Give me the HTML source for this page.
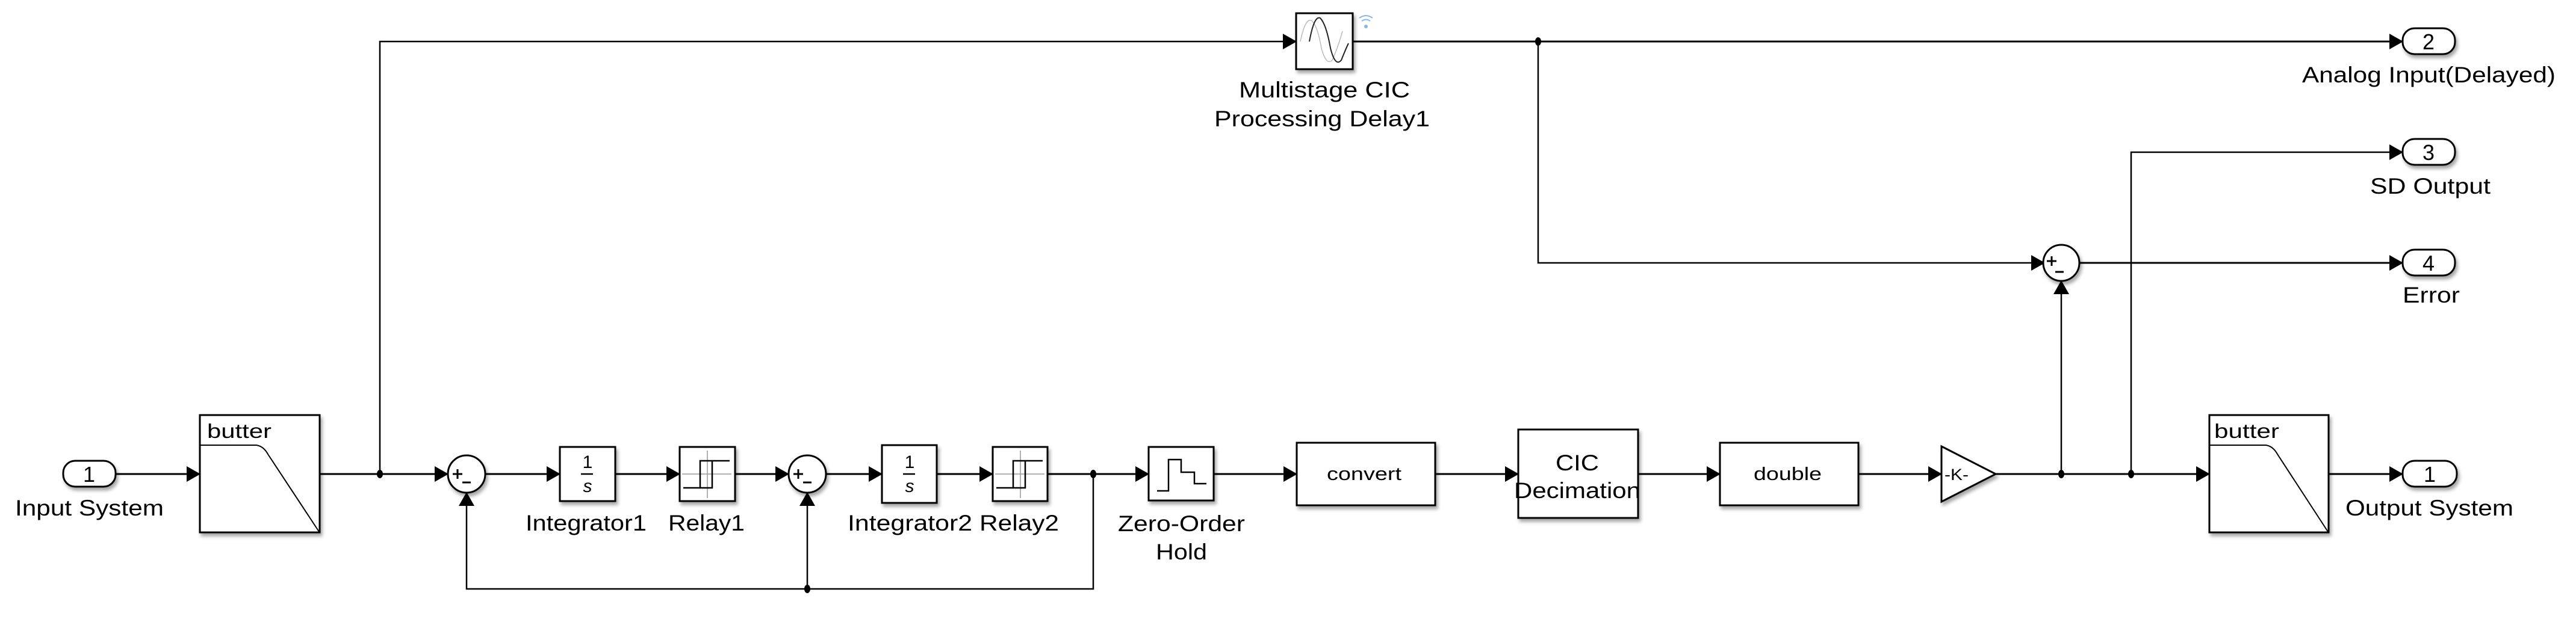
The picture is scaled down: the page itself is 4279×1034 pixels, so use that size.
<!DOCTYPE html>
<html><head><meta charset="utf-8"><style>
html,body{margin:0;padding:0;background:#fff;}
svg{display:block;}
text{font-family:"Liberation Sans",sans-serif;fill:#000;}
</style></head><body>
<svg width="4279" height="1034" viewBox="0 0 4279 1034" xmlns="http://www.w3.org/2000/svg">
<defs>
<marker id="a" markerWidth="24" markerHeight="26" refX="22" refY="13" orient="auto" markerUnits="userSpaceOnUse">
<path d="M0,0 L23,13 L0,26 Z" fill="#000"/></marker>
<filter id="sh" x="-10%" y="-10%" width="130%" height="130%"><feDropShadow dx="3" dy="5" stdDeviation="3" flood-color="#000" flood-opacity="0.35"/></filter>
</defs>
<g fill="none" stroke="#000" stroke-width="3">
<line x1="192" y1="788" x2="332" y2="788" marker-end="url(#a)"/>
<line x1="532" y1="788" x2="744" y2="788" marker-end="url(#a)"/>
<line x1="806" y1="788" x2="930" y2="788" marker-end="url(#a)"/>
<line x1="1022" y1="788" x2="1129" y2="788" marker-end="url(#a)"/>
<line x1="1221" y1="788" x2="1310" y2="788" marker-end="url(#a)"/>
<line x1="1372" y1="788" x2="1465" y2="788" marker-end="url(#a)"/>
<line x1="1556" y1="788" x2="1649" y2="788" marker-end="url(#a)"/>
<line x1="1740" y1="788" x2="1908" y2="788" marker-end="url(#a)"/>
<line x1="2016" y1="788" x2="2154" y2="788" marker-end="url(#a)"/>
<line x1="2384" y1="788" x2="2522" y2="788" marker-end="url(#a)"/>
<line x1="2721" y1="788" x2="2857" y2="788" marker-end="url(#a)"/>
<line x1="3087" y1="788" x2="3225" y2="788" marker-end="url(#a)"/>
<line x1="3315" y1="788" x2="3670" y2="788" marker-end="url(#a)"/>
<line x1="3868" y1="788" x2="3991" y2="788" marker-end="url(#a)"/>
<polyline points="1816,788 1816,979 775,979 775,819" stroke-width="2.5" marker-end="url(#a)"/>
<polyline points="1341,979 1341,819" stroke-width="2.5" marker-end="url(#a)"/>
<polyline points="631,788 631,69 2153,69" stroke-width="2.5" marker-end="url(#a)"/>
<line x1="2247" y1="69" x2="3991" y2="69" marker-end="url(#a)"/>
<polyline points="2555,69 2555,437 3396,437" stroke-width="2.5" marker-end="url(#a)"/>
<line x1="3453" y1="437" x2="3991" y2="437" marker-end="url(#a)"/>
<polyline points="3424,788 3424,467" stroke-width="2.5" marker-end="url(#a)"/>
<polyline points="3540,788 3540,253 3991,253" stroke-width="2.5" marker-end="url(#a)"/>
</g>
<g fill="#000">
<ellipse cx="631" cy="788" rx="5" ry="7"/><ellipse cx="1341" cy="979" rx="5" ry="7"/>
<ellipse cx="1816" cy="788" rx="5" ry="7"/><ellipse cx="2555" cy="69" rx="5" ry="7"/>
<ellipse cx="3424" cy="788" rx="5" ry="7"/><ellipse cx="3540" cy="788" rx="5" ry="7"/>
</g>
<g fill="#fff" stroke="#000" stroke-width="3" filter="url(#sh)">
<rect x="105" y="766" width="87" height="43" rx="20"/>
<rect x="332" y="690" width="199" height="195"/>
<circle cx="775" cy="788" r="31"/>
<rect x="930" y="743" width="92" height="90"/>
<rect x="1129" y="743" width="92" height="90"/>
<circle cx="1341" cy="788" r="31"/>
<rect x="1465" y="740" width="91" height="96"/>
<rect x="1649" y="743" width="91" height="90"/>
<rect x="1908" y="743" width="108" height="89"/>
<rect x="2154" y="736" width="230" height="104"/>
<rect x="2522" y="714" width="199" height="147"/>
<rect x="2857" y="736" width="230" height="104"/>
<polygon points="3225,742 3315,788 3225,834"/>
<rect x="3670" y="690" width="198" height="195"/>
<rect x="3991" y="766" width="90" height="43" rx="20"/>
<rect x="2153" y="22" width="94" height="93"/>
<rect x="3991" y="47" width="87" height="43" rx="20"/>
<rect x="3991" y="231" width="87" height="43" rx="20"/>
<rect x="3991" y="415" width="87" height="43" rx="20"/>
<circle cx="3424" cy="437" r="30"/>
</g>
<g fill="none" stroke="#000" stroke-width="2">
<path d="M333,740 L426,740 Q438,742 445,755 L530,884"/>
<path d="M3671,740 L3764,740 Q3776,742 3783,755 L3867,884"/>
<path d="M1922,816 L1941,816 L1941,764 L1962,764 L1962,785 L1984,785 L1984,804 L2004,804" stroke-width="2.5"/>
<g stroke="#999" stroke-width="1.5"><line x1="1175" y1="749" x2="1175" y2="828"/><line x1="1133" y1="788" x2="1215" y2="788"/>
<line x1="1695" y1="749" x2="1695" y2="828"/><line x1="1653" y1="788" x2="1735" y2="788"/></g>
<path d="M1135,811 L1163,811 L1163,766 L1212,766 M1163,811 L1183,811 L1183,766" stroke-width="2.5"/>
<path d="M1655,811 L1683,811 L1683,766 L1732,766 M1683,811 L1703,811 L1703,766" stroke-width="2.5"/>
<line x1="965" y1="788" x2="985" y2="788" stroke-width="2.5"/>
<line x1="1500" y1="788" x2="1520" y2="788" stroke-width="2.5"/>
<path d="M2160,69 Q2168,30 2178,34 Q2188,40 2195,80 Q2203,110 2213,100 Q2222,80 2230,52" stroke="#bbb" stroke-width="1.5"/>
<path d="M2175,69 Q2183,25 2193,30 Q2203,40 2210,80 Q2218,112 2228,100 Q2236,80 2240,72" stroke="#222"/>
<path d="M2262,35 Q2269,30 2276,35 M2258,30 Q2269,22 2280,30" stroke="#8ab6e0" stroke-width="2"/>
</g>
<circle cx="2269" cy="44" r="3" fill="#8ab6e0"/>
<g font-size="37">
<text x="148" y="801" text-anchor="middle" font-size="36">1</text>
<text x="4036" y="801" text-anchor="middle" font-size="36">1</text>
<text x="4034" y="82" text-anchor="middle" font-size="36">2</text>
<text x="4034" y="266" text-anchor="middle" font-size="36">3</text>
<text x="4034" y="450" text-anchor="middle" font-size="36">4</text>
<text x="25" y="857" textLength="247" lengthAdjust="spacingAndGlyphs">Input System</text>
<text x="344" y="728" font-size="33" textLength="107" lengthAdjust="spacingAndGlyphs">butter</text>
<text x="3678" y="728" font-size="33" textLength="108" lengthAdjust="spacingAndGlyphs">butter</text>
<text x="873" y="882" textLength="201" lengthAdjust="spacingAndGlyphs">Integrator1</text>
<text x="1110" y="882" textLength="127" lengthAdjust="spacingAndGlyphs">Relay1</text>
<text x="1408" y="882" textLength="207" lengthAdjust="spacingAndGlyphs">Integrator2</text>
<text x="1627" y="882" textLength="132" lengthAdjust="spacingAndGlyphs">Relay2</text>
<text x="1857" y="883" textLength="211" lengthAdjust="spacingAndGlyphs">Zero-Order</text>
<text x="1920" y="930" textLength="85" lengthAdjust="spacingAndGlyphs">Hold</text>
<text x="2204" y="798" font-size="31" textLength="124" lengthAdjust="spacingAndGlyphs">convert</text>
<text x="2584" y="782" textLength="72" lengthAdjust="spacingAndGlyphs">CIC</text>
<text x="2515" y="828" textLength="210" lengthAdjust="spacingAndGlyphs">Decimation</text>
<text x="2913" y="798" font-size="31" textLength="113" lengthAdjust="spacingAndGlyphs">double</text>
<text x="3230" y="798" font-size="27" textLength="40" lengthAdjust="spacingAndGlyphs">-K-</text>
<text x="3896" y="857" textLength="279" lengthAdjust="spacingAndGlyphs">Output System</text>
<text x="2058" y="162" textLength="284" lengthAdjust="spacingAndGlyphs">Multistage CIC</text>
<text x="2017" y="210" textLength="358" lengthAdjust="spacingAndGlyphs">Processing Delay1</text>
<text x="3824" y="137" textLength="421" lengthAdjust="spacingAndGlyphs">Analog Input(Delayed)</text>
<text x="3937" y="322" textLength="200" lengthAdjust="spacingAndGlyphs">SD Output</text>
<text x="3991" y="503" textLength="95" lengthAdjust="spacingAndGlyphs">Error</text>
</g>
<g font-size="30" text-anchor="middle">
<text x="976" y="778" font-family="Liberation Serif">1</text>
<text x="976" y="818" font-style="italic" font-family="Liberation Serif">s</text>
<text x="1511" y="778" font-family="Liberation Serif">1</text>
<text x="1511" y="818" font-style="italic" font-family="Liberation Serif">s</text>
</g>
<g stroke="#000" stroke-width="3">
<path d="M752,788 h16 M760,780 v16 M768,802 h14"/>
<path d="M1318,788 h16 M1326,780 v16 M1334,802 h14"/>
<path d="M3400,434 h16 M3408,426 v16 M3414,452 h14"/>
</g>
</svg>
</body></html>
